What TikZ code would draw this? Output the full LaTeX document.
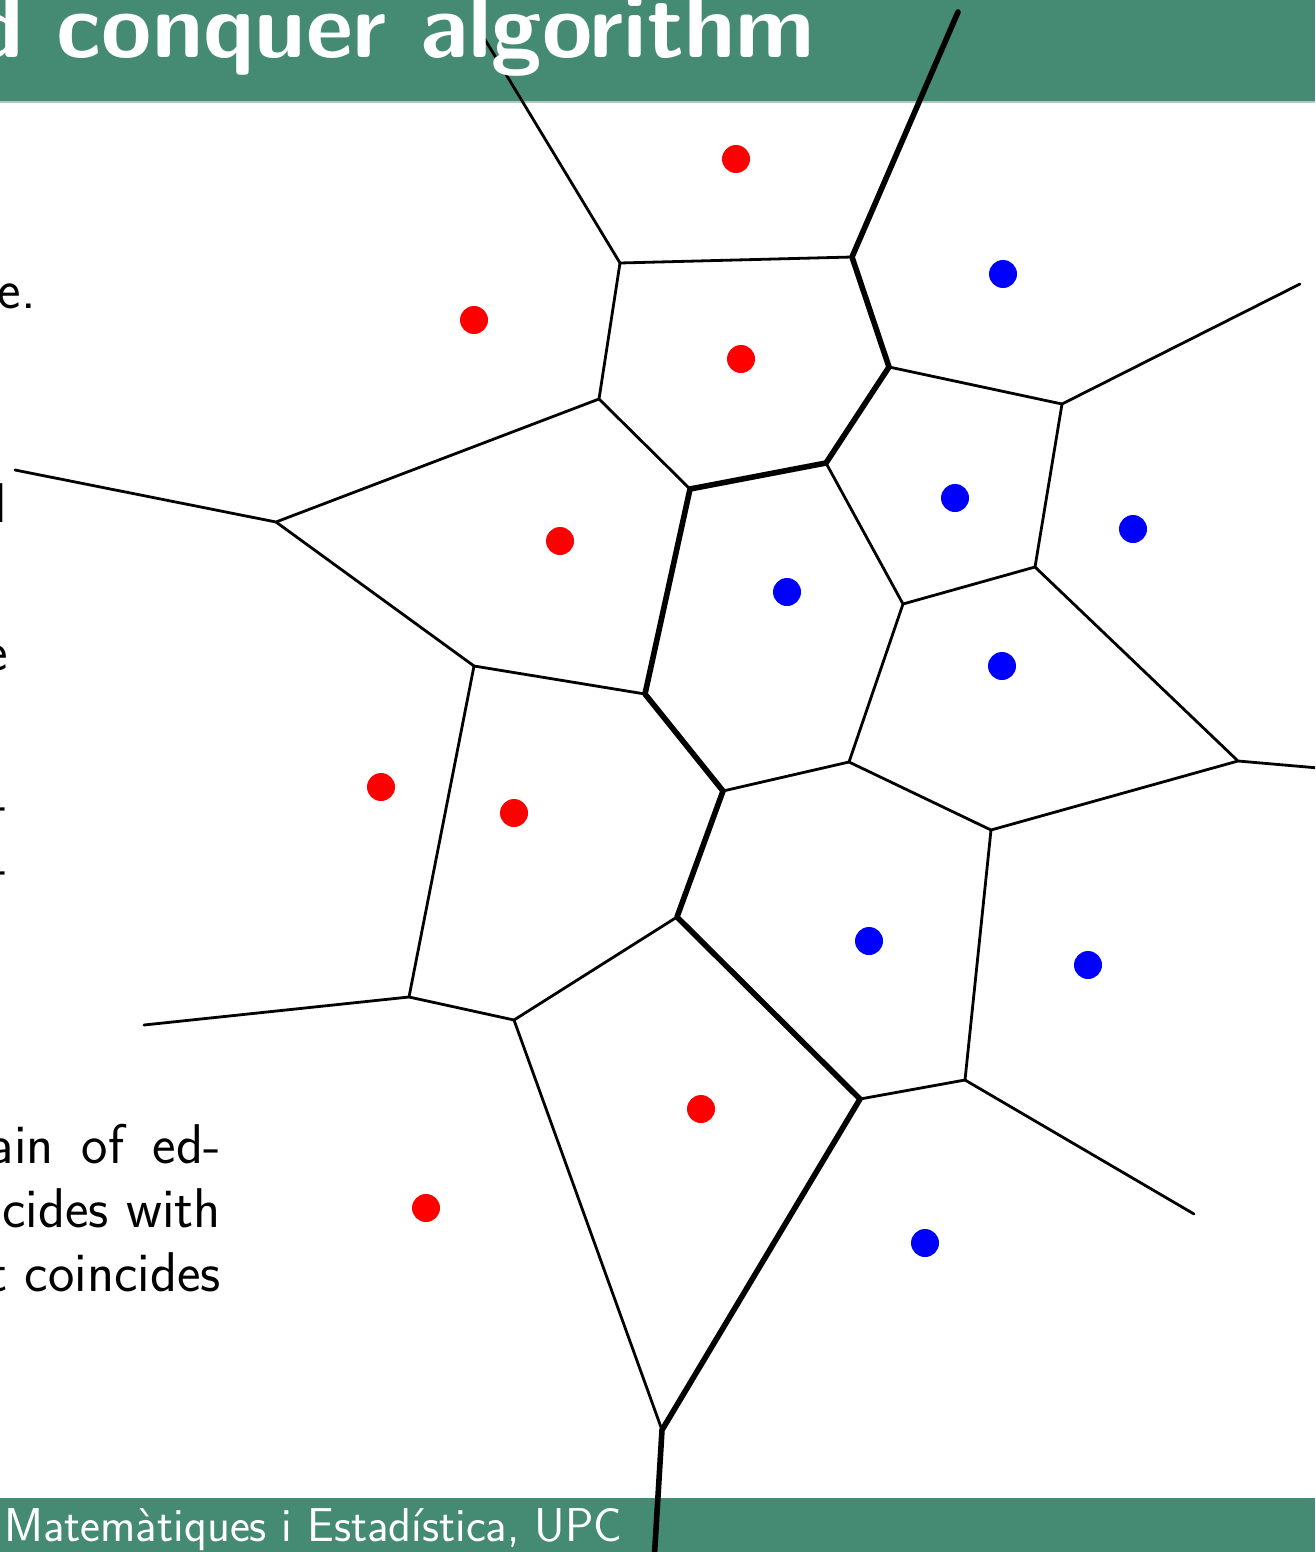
\documentclass[tikz,border=0pt]{standalone}
\usepackage{fontspec}
\definecolor{hdr}{RGB}{69,139,115}
\tikzset{
  thinedge/.style={line width=2.8pt, line cap=round, line join=round},
  thickedge/.style={line width=5.6pt, line cap=round, line join=round},
  redsite/.style={circle, fill=red, inner sep=0pt, minimum size=28pt},
  bluesite/.style={circle, fill=blue, inner sep=0pt, minimum size=28pt},
  bodytext/.style={font=\fontsize{56}{64}\selectfont\sffamily, inner sep=0pt, anchor=base east},
}
\begin{document}
\begin{tikzpicture}[x=1pt,y=-1pt]
\useasboundingbox (0,0) rectangle (1315,1552);
\clip (0,0) rectangle (1315,1552);
% bars
\fill[hdr] (0,0) rectangle (1315,101);
\fill[hdr!45!white] (0,101) rectangle (1315,103);
\fill[hdr] (0,1498) rectangle (1315,1552);
% Voronoi vertices
\coordinate (A) at (620,263);
\coordinate (B) at (852,257);
\coordinate (C) at (889,367);
\coordinate (D) at (1062,404);
\coordinate (E) at (599,399);
\coordinate (F) at (690,489);
\coordinate (G) at (826,463);
\coordinate (H) at (276,522);
\coordinate (I) at (1035,567);
\coordinate (J) at (903,604);
\coordinate (K) at (474,666);
\coordinate (L) at (645,694);
\coordinate (M) at (723,791);
\coordinate (N) at (849,762);
\coordinate (O) at (991,830);
\coordinate (P) at (1238,761);
\coordinate (Q) at (677,917);
\coordinate (R) at (409,997);
\coordinate (S) at (514,1020);
\coordinate (T) at (860,1099);
\coordinate (U) at (965,1080);
\coordinate (V) at (662,1430);
% free ends
\coordinate (tA) at (478,28);
\coordinate (tB) at (958,12);
\coordinate (tH) at (15,470);
\coordinate (tR) at (144,1025);
\coordinate (tD) at (1300,284);
\coordinate (tP) at (1330,769);
\coordinate (tU) at (1194,1214);
\coordinate (tV) at (654,1562);
% thin edges
\draw[thinedge] (tA) -- (A) -- (B);
\draw[thinedge] (A) -- (E) -- (F);
\draw[thinedge] (E) -- (H) -- (tH);
\draw[thinedge] (H) -- (K) -- (L);
\draw[thinedge] (K) -- (R) -- (tR);
\draw[thinedge] (R) -- (S) -- (Q);
\draw[thinedge] (S) -- (V);
\draw[thinedge] (G) -- (J) -- (I) -- (D) -- (C);
\draw[thinedge] (D) -- (tD);
\draw[thinedge] (I) -- (P) -- (tP);
\draw[thinedge] (J) -- (N) -- (M);
\draw[thinedge] (N) -- (O) -- (P);
\draw[thinedge] (O) -- (U) -- (T);
\draw[thinedge] (U) -- (tU);
% thick merge chain
\draw[thickedge] (tB) -- (B) -- (C) -- (G) -- (F) -- (L) -- (M) -- (Q) -- (T) -- (V) -- (tV);
% sites
\node[redsite] (r1) at (736,159) {};
\node[redsite] (r2) at (474,320) {};
\node[redsite] (r3) at (741,359) {};
\node[redsite] (r4) at (560,541) {};
\node[redsite] (r5) at (381,787) {};
\node[redsite] (r6) at (514,813) {};
\node[redsite] (r7) at (701,1109) {};
\node[redsite] (r8) at (426,1208) {};
\node[bluesite] (b1) at (1003,274) {};
\node[bluesite] (b2) at (955,498) {};
\node[bluesite] (b3) at (1133,529) {};
\node[bluesite] (b4) at (787,592) {};
\node[bluesite] (b5) at (1002,666) {};
\node[bluesite] (b6) at (869,941) {};
\node[bluesite] (b7) at (1088,965) {};
\node[bluesite] (b8) at (925,1243) {};
% texts
\node[anchor=base east, text=white, inner sep=0pt, font=\fontsize{91.5}{92}\selectfont\sffamily\bfseries] (title) at (815,58) {d conquer algorithm};
\node[anchor=base west, text=white, inner sep=0pt, font=\fontsize{47.5}{48}\selectfont\sffamily] (foot) at (4,1541) {Matemàtiques i Estadística, UPC};
\node[bodytext] (t1) at (36,308) {e.};
\node[bodytext] (t2) at (7,522) {l};
\node[bodytext] (t3) at (8,670) {e};
\node[bodytext] (t4) at (8,821) {-};
\node[bodytext] (t5) at (8,885) {-};
\node[bodytext] (t6) at (221,1163) {\makebox[232pt][s]{ain of ed-}};
\node[bodytext] (t7) at (221,1227) {cides with};
\node[bodytext] (t8) at (221,1291) {t coincides};
\end{tikzpicture}
\end{document}
